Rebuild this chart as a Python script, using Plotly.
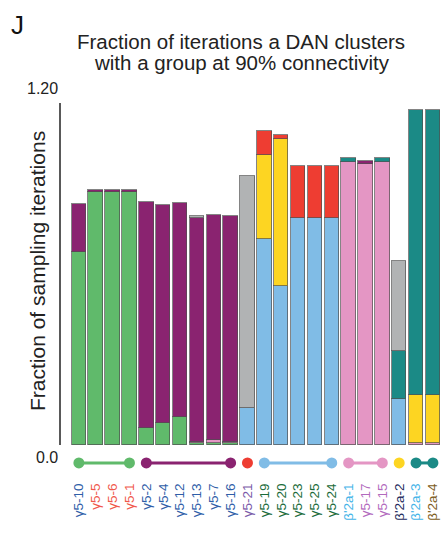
import plotly.graph_objects as go

labels = ["γ5-10", "γ5-5", "γ5-6", "γ5-1", "γ5-2", "γ5-4", "γ5-12", "γ5-13", "γ5-7", "γ5-16",
          "γ5-21", "γ5-19", "γ5-20", "γ5-23", "γ5-25", "γ5-24", "β'2a-1", "γ5-17", "γ5-15",
          "β'2a-2", "β'2a-3", "β'2a-4"]
label_colors = ["#2f5ea8", "#f0584c", "#f0584c", "#f0584c", "#2f5ea8", "#2f5ea8", "#2f5ea8", "#2f5ea8",
                "#2f5ea8", "#2f5ea8", "#7a5aa8", "#1b6b3a", "#1b6b3a", "#1b6b3a", "#1b6b3a", "#1b6b3a",
                "#45b4e8", "#b26abd", "#b26abd", "#232c5e", "#45b4e8", "#7d5c22"]

N = None
green  = [0.678, 0.889, 0.889, 0.889, 0.061, 0.078, 0.099, 0.006, 0.006, 0.006, N, N, N, N, N, N, N, N, N, N, N, N]
blue   = [N, N, N, N, N, N, N, N, N, N, 0.129, 0.722, 0.558, 0.796, 0.796, 0.796, N, N, N, 0.160, N, N]
pink   = [N, N, N, N, N, N, N, 0.004, 0.013, 0.004, N, N, N, N, N, N, 0.992, 0.985, 0.992, N, 0.008, 0.008]
yellow = [N, N, N, N, N, N, N, N, N, N, N, 0.294, 0.515, N, N, N, N, N, N, N, 0.166, 0.166]
purple = [0.167, 0.005, 0.005, 0.005, 0.791, 0.765, 0.749, 0.785, 0.788, 0.792, N, N, N, N, N, N, N, 0.011, N, N, N, N]
red    = [N, N, N, N, N, N, N, N, N, N, N, 0.086, 0.015, 0.182, 0.182, 0.182, N, N, N, N, N, N]
teal   = [N, N, N, N, N, N, N, N, N, N, N, N, N, N, N, N, 0.015, N, 0.015, 0.170, 1.001, 1.001]
gray   = [N, N, N, N, N, N, N, 0.010, N, N, 0.816, N, N, N, N, N, N, N, N, 0.315, N, N]

series = [("green", green, "#60ba6b"), ("blue", blue, "#80bce6"), ("pink", pink, "#e496c4"),
          ("yellow", yellow, "#fdd522"), ("purple", purple, "#8a2370"), ("red", red, "#ee3d32"),
          ("teal", teal, "#1b8a86"), ("gray", gray, "#b1b3b4")]

# group indicator rows: (first index, last index, colour)
groups = [(0, 3, "#60ba6b"), (4, 9, "#8a2370"), (10, 10, "#ee3d32"), (11, 15, "#80bce6"),
          (16, 18, "#e496c4"), (19, 19, "#fdd522"), (20, 21, "#1b8a86")]
group_y = -0.063

W, H = 441, 534
ML, MR, MT = 60, 0, 103
MB = H - 475
pw, ph = W - ML - MR, H - MT - MB


def paper(px, py):
    """page pixel -> paper coords"""
    return (px - ML) / pw, (H - MB - py) / ph


x = list(range(len(labels)))
fig = go.Figure()
for name, vals, col in series:
    fig.add_trace(go.Bar(x=x, y=vals, name=name, width=0.86,
                         marker=dict(color=col, line=dict(color="rgba(80,80,80,0.7)", width=1))))
for a, b, col in groups:
    xs = [a] if a == b else [a, b]
    fig.add_trace(go.Scatter(x=xs, y=[group_y] * len(xs), mode="lines+markers",
                             line=dict(color=col, width=3), marker=dict(color=col, size=11)))

ticktext = [f'<span style="color:{c}">{t}</span>' for t, c in zip(labels, label_colors)]
FONT = "Liberation Sans, Arial, sans-serif"

texts = [
    ("J", 9, 8, "left", "top", 26, 0),
    ("Fraction of iterations a DAN clusters", 241, 28, "center", "top", 20.5, 0),
    ("with a group at 90% connectivity", 242, 49, "center", "top", 20.5, 0),
    ("1.20", 60, 88, "right", "middle", 16, 0),
    ("0.0", 60, 457, "right", "middle", 16, 0),
    ("Fraction of sampling iterations", 37, 271, "center", "middle", 21, -90),
]
annotations = []
for t, px, py, xa, ya, fs, ang in texts:
    ax, ay = paper(px, py)
    annotations.append(dict(text=t, x=ax, y=ay, xref="paper", yref="paper", showarrow=False,
                            xanchor=xa, yanchor=ya, textangle=ang,
                            font=dict(size=fs, color="#111" if t == "J" else "#222")))

fig.update_layout(
    width=W, height=H, barmode="stack", showlegend=False, bargap=0,
    plot_bgcolor="white", paper_bgcolor="white",
    margin=dict(l=ML, r=MR, t=MT, b=MB),
    font=dict(family=FONT, color="#222"),
    xaxis=dict(range=[-1.12, 21.48], tickmode="array", tickvals=x, ticktext=ticktext,
               tickangle=-90, tickfont=dict(size=13.5), showgrid=False, zeroline=False,
               showline=False, ticks="outside", ticklen=2, tickcolor="rgba(0,0,0,0)"),
    yaxis=dict(range=[-0.1053, 1.2], showgrid=False, zeroline=False, showline=False,
               showticklabels=False, ticks=""),
    shapes=[dict(type="line", xref="paper", yref="y", x0=0, x1=0, y0=0, y1=1.2,
                 line=dict(color="#222", width=1.5))],
    annotations=annotations,
)
fig.write_html("out.html", config={"displayModeBar": False},
               post_script="document.body.style.margin='0';document.body.style.overflow='hidden';")
